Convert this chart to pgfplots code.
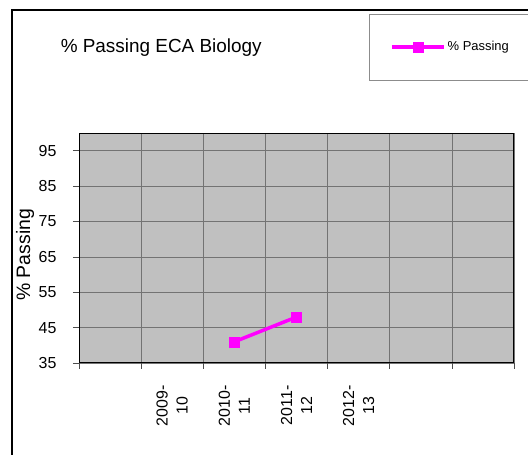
\documentclass[border=0pt]{standalone}
\usepackage{pgfplots}
\pgfplotsset{compat=1.18}
\usepackage{fontspec}
\setmainfont{Liberation Sans}
\definecolor{plotgray}{RGB}{192,192,192}
\definecolor{mag}{RGB}{255,0,255}
\begin{document}
\begin{tikzpicture}
\useasboundingbox (0,0) rectangle (528bp,455bp);
\fill[white] (0,0) rectangle (528bp,455bp);
\draw[line width=1.3bp] (12bp,-5bp) -- (12bp,445bp) -- (540bp,445bp);
\draw[draw=black!45, line width=0.8bp] (369bp,375bp) rectangle (540bp,441bp);
\begin{axis}[
  at={(79bp,92bp)}, anchor=south west,
  scale only axis, width=435bp, height=230bp,
  xmin=-0.5, xmax=6.5, ymin=35, ymax=100,
  axis background/.style={fill=plotgray},
  axis line style={black, line width=1bp},
  xtick={1,2,3,4},
  xticklabels={{2009-\\10},{2010-\\11},{2011-\\12},{2012-\\13}},
  major x tick style={draw=none},
  minor xtick={-0.5,0.5,...,6.5},
  xminorgrids,
  ytick={35,45,...,95},
  ymajorgrids,
  grid style={black!55, line width=0.5bp},
  minor grid style={black!55, line width=0.5bp},
  tick align=outside,
  xtick pos=bottom, ytick pos=left,
  major tick length=6bp, minor tick length=6bp,
  tick style={black!70, line width=0.6bp},
  xticklabel shift=13bp, yticklabel shift=13bp,
  /pgf/number format/assume math mode=true,
  yticklabel style={font=\fontsize{16}{19}\selectfont},
  xticklabel style={font=\fontsize{16}{20}\selectfont, rotate=90, anchor=east, align=center},
  title={\% Passing ECA Biology},
  title style={at={(axis description cs:-0.05,1.345)}, anchor=west, font=\fontsize{19}{23}\selectfont},
  ylabel={\% Passing},
  ylabel style={at={(axis description cs:-0.124,0.47)}, anchor=center, font=\fontsize{19.5}{23}\selectfont},
  legend style={draw=none, fill=none, at={(axis description cs:0.7149,1.3739)}, anchor=west, inner sep=0pt, font=\fontsize{13}{16}\selectfont},
  legend image code/.code={\draw[mark repeat=2,mark phase=2,#1] plot coordinates {(0bp,0bp)(26bp,0bp)(52bp,0bp)};},
]
\addplot[mag, line width=3.5bp, mark=square*, mark size=5bp, mark options={solid, fill=mag, draw=mag, line width=0.5bp}]
  coordinates {(2,41) (3,48)};
\addlegendentry{\% Passing}
\end{axis}
\end{tikzpicture}
\end{document}
